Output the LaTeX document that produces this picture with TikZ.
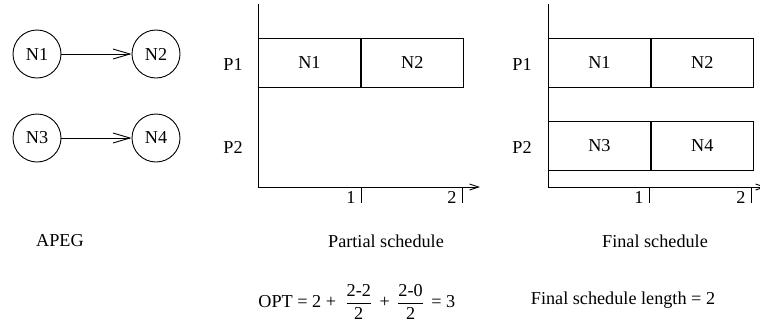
\documentclass[tikz,border=0pt]{standalone}
\usepackage{amsmath}
\usepackage{fontspec}
\setmainfont{Liberation Serif}
\usetikzlibrary{arrows.meta,positioning}

\tikzset{
  txt/.style={font=\fontsize{18.2}{22}\selectfont, inner sep=0pt},
  task/.style={circle, draw, minimum size=48pt, inner sep=0pt, txt},
  slot/.style={draw, minimum width=102pt, minimum height=49pt, inner sep=0pt, txt},
  dep/.style={-{Straight Barb[length=17pt,width=10pt]}},
  axis/.style={-{Straight Barb[length=9pt,width=6pt]}}
}

\begin{document}
\begin{tikzpicture}[x=1pt,y=-1pt,line width=0.9pt]
\useasboundingbox (0,0) rectangle (760,327);

% APEG
\node[task] (n1) at (37,54) {N1};
\node[task] (n2) at (156,54) {N2};
\node[task] (n3) at (37,138) {N3};
\node[task] (n4) at (156,138) {N4};
\draw[dep] (n1) -- (n2);
\draw[dep] (n3) -- (n4);
\node[txt] (apeg) at (60,241) {APEG};

% Partial schedule
\coordinate (po) at (258,187);
\coordinate (ptop) at (258,4);
\coordinate (pend) at (480,187);
\draw (ptop) -- (po);
\draw[axis] (po) -- (pend);
\node[slot,anchor=north west] (pn1) at (258,38) {N1};
\node[slot,right=0pt of pn1] (pn2) {N2};
\node[txt] (pp1) at (233,64) {P1};
\node[txt] (pp2) at (233,147) {P2};
\foreach \x/\t in {361/1,462/2}
{
\draw (\x,187) -- (\x,203);
\node[txt,anchor=east] at (\x-5,197) {\t};
}
\node[txt] (plabel) at (386,241) {Partial schedule};

% Final schedule
\coordinate (fo) at (548,187);
\coordinate (ftop) at (548,4);
\coordinate (fend) at (766,187);
\draw (ftop) -- (fo);
\draw[axis] (fo) -- (fend);
\node[slot,anchor=north west] (fn1) at (548,38) {N1};
\node[slot,right=0pt of fn1] (fn2) {N2};
\node[slot,anchor=north west] (fn3) at (548,121) {N3};
\node[slot,right=0pt of fn3] (fn4) {N4};
\node[txt] (fp1) at (522,64) {P1};
\node[txt] (fp2) at (522,147) {P2};
\foreach \x/\t in {649/1,751/2}
{
\draw (\x,187) -- (\x,203);
\node[txt,anchor=east] at (\x-5,197) {\t};
}
\node[txt] (flabel) at (655,241) {Final schedule};

% Bounds
\node[txt,anchor=west] (opt) at (258,302)
  {OPT = 2 + $\;\displaystyle\frac{\text{2-2}}{\text{2}}\,$ + $\,\displaystyle\frac{\text{2-0}}{\text{2}}\,$ = 3};
\node[txt] (len) at (623,300) {Final schedule length = 2};

\end{tikzpicture}
\end{document}
